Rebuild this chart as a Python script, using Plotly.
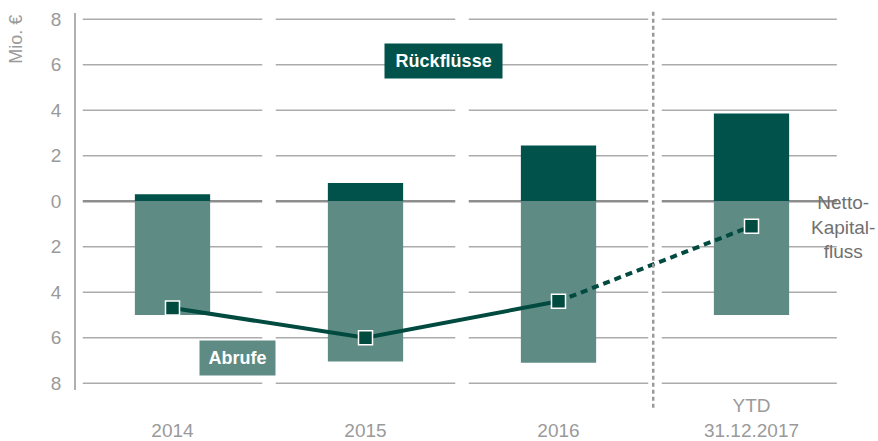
import plotly.graph_objects as go

# ---- data ----
categories = ["2014", "2015", "2016", "YTD 31.12.2017"]
tick_top = ["", "", "", "YTD"]
tick_bottom = ["2014", "2015", "2016", "31.12.2017"]
rueckfluesse = [0.3, 0.8, 2.45, 3.85]          # positive, Mio. €
abrufe = [5.0, 7.05, 7.1, 5.0]                 # drawn downward, Mio. €
netto = [-4.7, -6.0, -4.4, -1.1]               # net capital flow
y_ticks = [-8, -6, -4, -2, 0, 2, 4, 6, 8]
y_ticktext = [str(abs(v)) for v in y_ticks]

DARK = "#01524A"
LIGHT = "#5E8B83"
LINE = "#004A40"
GRID = "#ababab"
ZERO = "#8e8e8e"
TXT = "#9a9a9a"
FONT = "Liberation Sans, Arial, sans-serif"

fig = go.Figure()

fig.add_trace(go.Bar(x=categories, y=rueckfluesse, marker=dict(color=DARK, line=dict(width=0)),
                     width=0.39, hoverinfo="skip"))
fig.add_trace(go.Bar(x=categories, y=[-v for v in abrufe], marker=dict(color=LIGHT, line=dict(width=0)),
                     width=0.39, hoverinfo="skip"))

# solid part of the net line (actual years)
fig.add_trace(go.Scatter(x=categories[:3], y=netto[:3], mode="lines",
                         line=dict(color=LINE, width=4), hoverinfo="skip"))
# dotted part (YTD)
fig.add_trace(go.Scatter(x=categories[2:], y=netto[2:], mode="lines",
                         line=dict(color=LINE, width=4, dash="7px,5px"), hoverinfo="skip"))
# markers
fig.add_trace(go.Scatter(x=categories, y=netto, mode="markers",
                         marker=dict(symbol="square", size=14, color=LINE,
                                     line=dict(color="white", width=1.5)),
                         hoverinfo="skip"))

# segmented grid lines (broken between categories)
shapes = []
gap = 0.035
for yv in y_ticks:
    for i in range(len(categories)):
        x0 = i - 0.5 + gap
        x1 = i + 0.5 - gap
        if i == len(categories) - 1:
            x1 = i + 0.5 - 0.058
        shapes.append(dict(type="line", xref="x", yref="y", x0=x0, x1=x1, y0=yv, y1=yv,
                           line=dict(color=ZERO if yv == 0 else GRID, width=2.5 if yv == 0 else 1.5),
                           layer="below"))
# vertical dotted separator before YTD
shapes.append(dict(type="line", xref="paper", yref="paper", x0=0.7477, x1=0.7477, y0=-0.047, y1=1.011,
                   line=dict(color="#9a9a9a", width=2.5, dash="4px,3px"), layer="above"))

tick_labels = [(t if t else " ") + "<br>" + b for t, b in zip(tick_top, tick_bottom)]

fig.update_layout(
    width=878, height=441,
    margin=dict(l=76, r=30, t=13, b=51),
    paper_bgcolor="white", plot_bgcolor="white",
    showlegend=False, barmode="overlay", hovermode=False,
    font=dict(family=FONT, color=TXT, size=19),
    shapes=shapes,
    xaxis=dict(type="category", categoryorder="array", categoryarray=categories,
               range=[-0.5, 3.5], showgrid=False, zeroline=False, showline=False,
               tickmode="array", tickvals=categories, ticktext=tick_labels,
               ticks="", ticklabelstandoff=2, automargin=False,
               tickfont=dict(size=19, color=TXT)),
    yaxis=dict(range=[-8.3, 8.27], showgrid=False, zeroline=False,
               showline=True, linecolor="#b0b0b0", linewidth=1.5,
               tickmode="array", tickvals=y_ticks, ticktext=y_ticktext,
               ticks="", ticklabelstandoff=9, automargin=False,
               tickfont=dict(size=19, color=TXT)),
    annotations=[
        dict(text="\u2009<b>Rückflüsse</b>\u2009", x=1.404, y=6.15, xref="x", yref="y", showarrow=False,
             bgcolor=DARK, borderpad=7, font=dict(family=FONT, size=18, color="white")),
        dict(text="\u200a<b>Abrufe</b>\u200a", x=0.337, y=-6.88, xref="x", yref="y", showarrow=False,
             bgcolor=LIGHT, borderpad=7, font=dict(family=FONT, size=18, color="white")),
        dict(text="Netto-<br>Kapital-<br>fluss", x=0.993, y=(390 - 227) / 377, xref="paper", yref="paper",
             showarrow=False, align="center", xanchor="center", yanchor="middle",
             font=dict(family=FONT, size=19, color="#707070")),
        dict(text="Mio. €", x=-0.078, y=0.931, xref="paper", yref="paper", showarrow=False,
             textangle=-90, xanchor="center", yanchor="middle",
             font=dict(family=FONT, size=18, color=TXT)),
    ],
)

fig.write_html("out.html", config={"displayModeBar": False},
               post_script="document.body.style.margin='0';")
